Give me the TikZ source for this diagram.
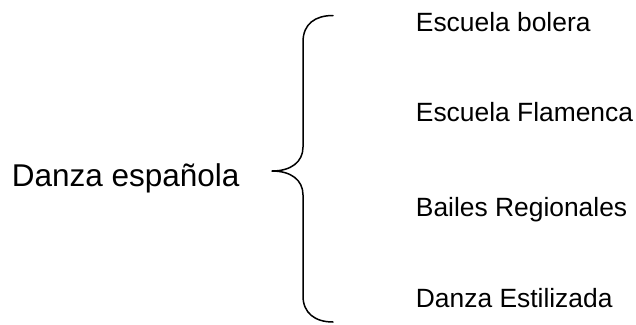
\documentclass[tikz,border=0pt]{standalone}
\usepackage{fontspec}
\setmainfont{Liberation Sans}
\begin{document}
\begin{tikzpicture}[x=1pt,y=-1pt,
  roottext/.style={anchor=base west,inner sep=0pt,font=\fontsize{31.5}{36}\selectfont},
  itemtext/.style={anchor=base west,inner sep=0pt,font=\fontsize{26.4}{30}\selectfont},
  bracestroke/.style={line width=1.5pt,line cap=round,line join=round}]
\useasboundingbox (0,0) rectangle (636,324);
% root label
\node[roottext] (root) at (11.6,186.7) {Danza española};
% curly brace
\draw[bracestroke] (333,15.5) .. controls (315,15.5) and (303,24) .. (303,42)
  -- (303,147) .. controls (303,162) and (291,171) .. (272,171)
  .. controls (291,171) and (303,180) .. (303,195)
  -- (303,296) .. controls (303,313) and (315,322) .. (333,322);
% branches
\node[itemtext] (i1) at (415.7,31.7) {Escuela bolera};
\node[itemtext] (i2) at (415.7,121.7) {Escuela Flamenca};
\node[itemtext] (i3) at (415.7,216.7) {Bailes Regionales};
\node[itemtext] (i4) at (415.7,307.7) {Danza Estilizada};
\end{tikzpicture}
\end{document}
